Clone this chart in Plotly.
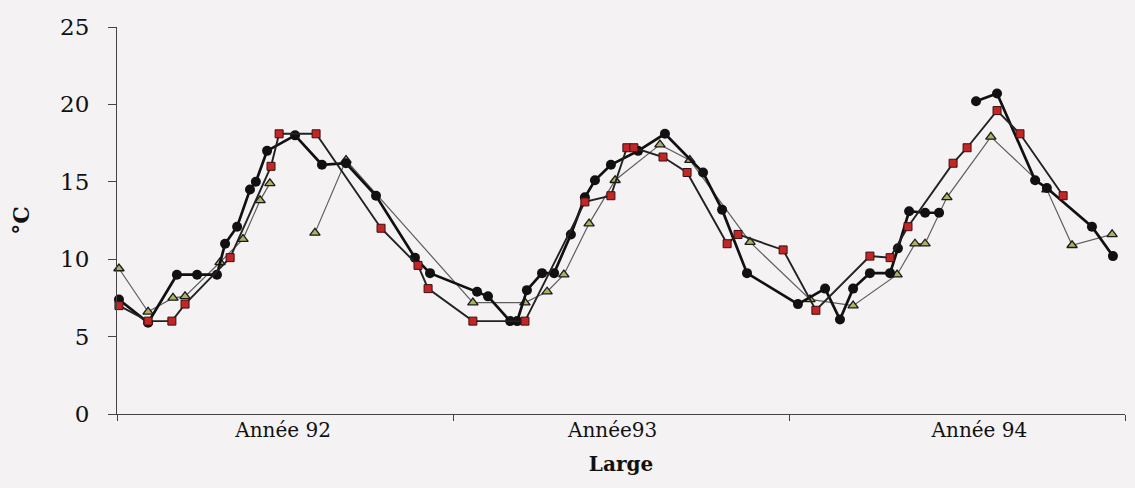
import plotly.graph_objects as go

# Sampling times in months since January 1992, temperatures in °C
mois_cercles = [0.07, 1.11, 2.14, 2.86, 3.57, 3.86, 4.29, 4.75, 4.96, 5.36, 6.36, 7.32, 8.18,
                9.25, 10.64, 11.18, 12.86, 13.25, 14.04, 14.29, 14.64, 15.18, 15.61, 16.21,
                16.71, 17.07, 17.64, 18.61, 19.57, 20.93, 21.61, 22.5, 24.32, 25.29, 25.82,
                26.29, 26.89, 27.61, 27.89, 28.29, 28.86, 29.36, None, 30.68, 31.43, 32.79,
                33.21, 34.82, 35.57]
temp_cercles = [7.4, 5.9, 9.0, 9.0, 9.0, 11.0, 12.1, 14.5, 15.0, 17.0, 18.0, 16.1, 16.2,
                14.1, 10.1, 9.1, 7.9, 7.6, 6.0, 6.0, 8.0, 9.1, 9.1, 11.6,
                14.0, 15.1, 16.1, 17.0, 18.1, 15.6, 13.2, 9.1, 7.1, 8.1, 6.1,
                8.1, 9.1, 9.1, 10.7, 13.1, 13.0, 13.0, None, 20.2, 20.7, 15.1,
                14.6, 12.1, 10.2]

mois_carres = [0.07, 1.11, 1.96, 2.43, 4.04, 5.5, 5.79, 7.11, 9.43, 10.75, 11.11, 12.71,
               14.57, 16.71, 17.64, 18.21, 18.46, 19.5, 20.36, 21.79, 22.18, 23.79, 24.96,
               26.89, 27.61, 28.25, 29.86, 30.36, 31.43, 32.25, 33.79]
temp_carres = [7.0, 6.0, 6.0, 7.1, 10.1, 16.0, 18.1, 18.1, 12.0, 9.6, 8.1, 6.0,
               6.0, 13.7, 14.1, 17.2, 17.2, 16.6, 15.6, 11.0, 11.6, 10.6, 6.7,
               10.2, 10.1, 12.1, 16.2, 17.2, 19.6, 18.1, 14.1]

mois_triangles = [0.07, 1.11, 2.0, 2.43, 3.68, 4.5, 5.11, 5.46, None, 7.07, 8.18, 12.71,
                  14.57, 15.36, 15.96, 16.86, 17.79, 19.39, 20.46, 22.61, 24.75, 26.29,
                  27.86, 28.5, 28.86, 29.64, 31.21, 33.21, 34.11, 35.54]
temp_triangles = [9.4, 6.6, 7.5, 7.6, 9.8, 11.3, 13.8, 14.9, None, 11.7, 16.4, 7.2,
                  7.2, 7.9, 9.0, 12.3, 15.1, 17.4, 16.4, 11.1, 7.4, 7.0,
                  9.0, 11.0, 11.0, 14.0, 17.9, 14.5, 10.9, 11.6]

limites_annees = [0, 12, 24, 36]
position_annees = [5.93, 17.7, 30.8]
noms_annees = ["Année 92", "Année93", "Année 94"]

police = "DejaVu Serif"
encre = "#111111"

fig = go.Figure()

fig.add_trace(go.Scatter(
    x=mois_triangles, y=temp_triangles, mode="lines+markers",
    line=dict(color="#5e5e5e", width=1.2),
    marker=dict(symbol="triangle-up", size=9, color="#b0b064",
                line=dict(color="#1a1a1a", width=1.3)),
    cliponaxis=False, showlegend=False, connectgaps=False,
))
fig.add_trace(go.Scatter(
    x=mois_cercles, y=temp_cercles, mode="lines+markers",
    line=dict(color="#111111", width=2.7),
    marker=dict(symbol="circle", size=10, color="#111111"),
    cliponaxis=False, showlegend=False, connectgaps=False,
))
fig.add_trace(go.Scatter(
    x=mois_carres, y=temp_carres, mode="lines+markers",
    line=dict(color="#222222", width=1.9),
    marker=dict(symbol="square", size=8, color="#c22626",
                line=dict(color="#3a1010", width=1)),
    cliponaxis=False, showlegend=False,
))

# Empty trace carrying the year labels on the overlaid axis
fig.add_trace(go.Scatter(x=[None], y=[None], xaxis="x2", showlegend=False))

fig.update_layout(
    width=1135, height=488,
    margin=dict(l=117, r=10, t=27, b=74),
    paper_bgcolor="#f4f2f2", plot_bgcolor="#f4f2f2",
    xaxis=dict(
        range=[0, 36], tickvals=limites_annees, showticklabels=False,
        ticks="outside", ticklen=6, tickcolor="#444", tickwidth=1,
        showline=True, linecolor="#444", linewidth=1.2,
        showgrid=False, zeroline=False,
        title=dict(text="<b>Large</b>", font=dict(family=police, size=20, color=encre),
                   standoff=36),
    ),
    xaxis2=dict(
        overlaying="x", matches="x", side="bottom",
        tickvals=position_annees, ticktext=noms_annees,
        ticks="", showline=False, showgrid=False, zeroline=False,
        tickfont=dict(family=police, size=20, color=encre),
        ticklabelstandoff=2,
    ),
    yaxis=dict(
        range=[0, 25], tickvals=[0, 5, 10, 15, 20, 25],
        ticks="outside", ticklen=8, tickcolor="#444", tickwidth=1,
        showline=True, linecolor="#444", linewidth=1.2,
        showgrid=False, zeroline=False,
        tickfont=dict(family=police, size=23, color=encre),
        ticklabelstandoff=14,
        title=dict(text="<b>°C</b>", font=dict(family=police, size=22, color=encre),
                   standoff=24),
    ),
)

fig.write_html("out.html")
